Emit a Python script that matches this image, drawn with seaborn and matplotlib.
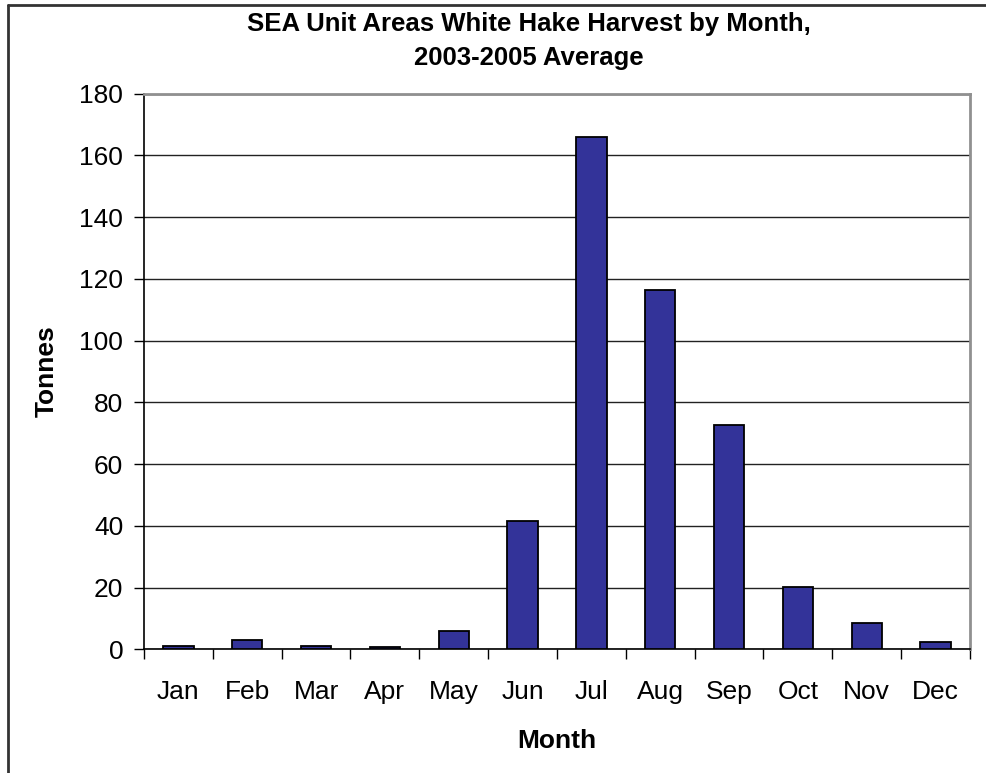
import matplotlib
matplotlib.use("Agg")
import matplotlib.pyplot as plt
from matplotlib.lines import Line2D
from matplotlib.ticker import MultipleLocator, FixedLocator
import seaborn as sns
import pandas as pd

months = ["Jan", "Feb", "Mar", "Apr", "May", "Jun",
          "Jul", "Aug", "Sep", "Oct", "Nov", "Dec"]
tonnes = [1.2, 3.0, 1.2, 0.6, 5.9, 41.5, 165.8, 116.4, 72.6, 20.3, 8.4, 2.5]

title_lines = ["SEA Unit Areas White Hake Harvest by Month,", "2003-2005 Average"]
x_label = "Month"
y_label = "Tonnes"

sns.set_theme(style="white")
plt.rcParams["font.family"] = ["Liberation Sans", "DejaVu Sans"]
plt.rcParams["text.color"] = "black"
plt.rcParams["axes.labelcolor"] = "black"

W, H = 987, 773
fig = plt.figure(figsize=(W / 100, H / 100), dpi=100)
ax = fig.add_axes([144 / W, 1 - 649.3 / H, (970 - 144) / W, (649.3 - 93.5) / H])

df = pd.DataFrame({"Month": months, "Tonnes": tonnes})
sns.barplot(data=df, x="Month", y="Tonnes", order=months, color="#333399",
            saturation=1, width=0.44, edgecolor="black", linewidth=1.3, ax=ax, zorder=3)

ax.set_xlim(-0.5, len(months) - 0.5)
ax.set_ylim(0, 180)
ax.yaxis.set_major_locator(MultipleLocator(20))
ax.grid(axis="y", color="#222222", linewidth=1.0, zorder=0)
ax.set_axisbelow(True)

# category boundaries carry the tick marks, labels sit at centres
ax.xaxis.set_minor_locator(FixedLocator([i - 0.5 for i in range(len(months) + 1)]))
ax.tick_params(axis="x", which="major", length=0, pad=22, labelsize=19, colors="black")
ax.tick_params(axis="x", which="minor", length=7, width=1.0, color="black", direction="out", bottom=True)
ax.tick_params(axis="y", which="major", length=7, width=1.0, color="black", direction="out",
               left=True, pad=8, labelsize=19, labelcolor="black")

for side in ("left", "bottom"):
    ax.spines[side].set_color("black")
    ax.spines[side].set_linewidth(1.2)
for side in ("top", "right"):
    ax.spines[side].set_color("#909090")
    ax.spines[side].set_linewidth(2.0)

ax.set_xlabel(x_label, fontsize=19, fontweight="bold", labelpad=18, color="black")
ax.set_ylabel(y_label, fontsize=19, fontweight="bold", labelpad=15, color="black")

fig.text(529 / W, 1 - 24 / H, title_lines[0], ha="center", va="center",
         fontsize=18.5, fontweight="bold", color="black")
fig.text(529 / W, 1 - 58 / H, title_lines[1], ha="center", va="center",
         fontsize=18.5, fontweight="bold", color="black")

# outer chart frame (left and top edges)
fig.add_artist(Line2D([8 / W, 8 / W], [0, 1 - 5 / H], transform=fig.transFigure,
                      color="#333333", linewidth=2.0))
fig.add_artist(Line2D([8 / W, 1], [1 - 5 / H, 1 - 5 / H], transform=fig.transFigure,
                      color="#333333", linewidth=2.0))

fig.savefig("out.png", dpi=100)
